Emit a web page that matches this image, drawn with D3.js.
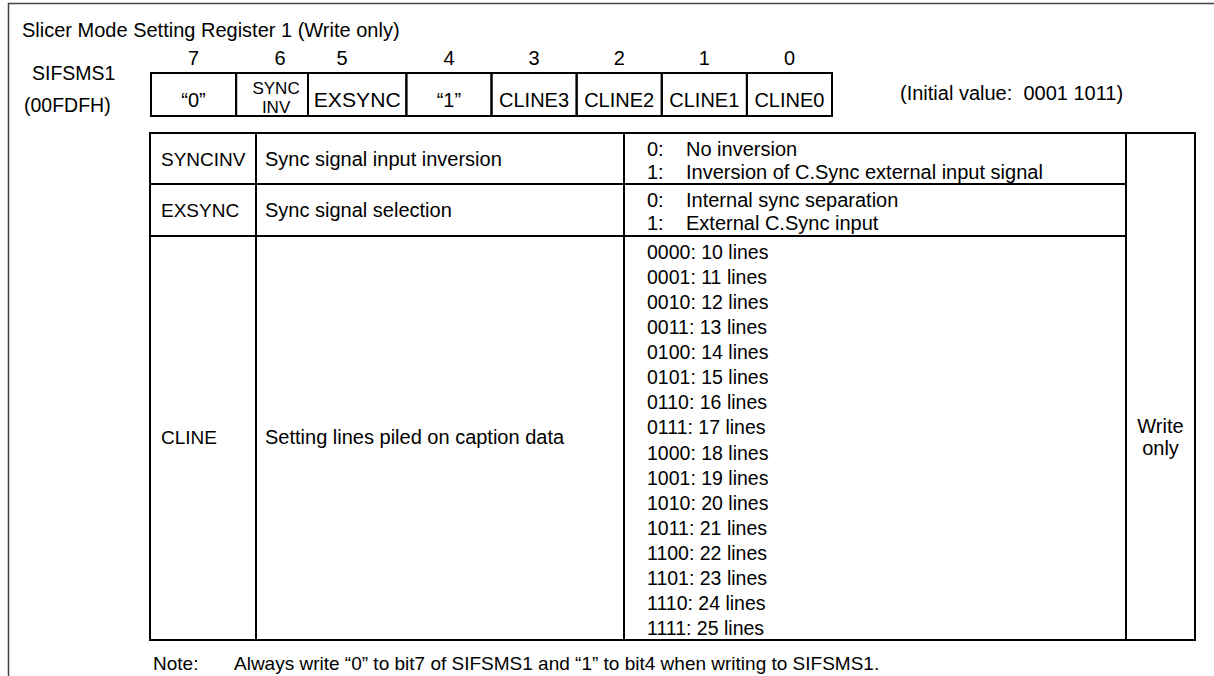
<!DOCTYPE html>
<html>
<head>
<meta charset="utf-8">
<script src="https://cdn.jsdelivr.net/npm/d3@7"></script>
<style>
  body { margin: 0; background: #fff; }
  text { font-family: "Liberation Sans", Arial, sans-serif; fill: #000; }
</style>
</head>
<body>
<div id="chart"></div>
<script>
// Register data
var title = "Slicer Mode Setting Register 1 (Write only)";
var regName = "SIFSMS1";
var regAddr = "(00FDFH)";
var bitNumbers = [7, 6, 5, 4, 3, 2, 1, 0];
var bitNames = ["\u201c0\u201d", ["SYNC", "INV"], "EXSYNC", "\u201c1\u201d", "CLINE3", "CLINE2", "CLINE1", "CLINE0"];
var initialValue = "(Initial value:  0001 1011)";

// Field table data
var fieldNames = ["SYNCINV", "EXSYNC", "CLINE"];
var fieldDescs = ["Sync signal input inversion", "Sync signal selection", "Setting lines piled on caption data"];
var syncinvCodes = ["0:", "1:"];
var syncinvTexts = ["No inversion", "Inversion of C.Sync external input signal"];
var exsyncCodes = ["0:", "1:"];
var exsyncTexts = ["Internal sync separation", "External C.Sync input"];
var clineCodes = ["0000", "0001", "0010", "0011", "0100", "0101", "0110", "0111",
                  "1000", "1001", "1010", "1011", "1100", "1101", "1110", "1111"];
var clineLines = [10, 11, 12, 13, 14, 15, 16, 17, 18, 19, 20, 21, 22, 23, 24, 25];
var accessLabel = ["Write", "only"];
var noteLabel = "Note:";
var noteText = "Always write \u201c0\u201d to bit7 of SIFSMS1 and \u201c1\u201d to bit4 when writing to SIFSMS1.";

var width = 1214, height = 676;
var fs = 20;

var svg = d3.select("#chart").append("svg")
    .attr("width", width)
    .attr("height", height);

// outer frame (cut off at right and bottom)
svg.append("path")
    .attr("d", "M8.5," + height + "V3.5H" + width)
    .attr("fill", "none")
    .attr("stroke", "#444")
    .attr("stroke-width", 1.5);

svg.append("text").attr("x", 22).attr("y", 37).attr("font-size", fs).text(title);
svg.append("text").attr("x", 32).attr("y", 80).attr("font-size", 19.5).text(regName);
svg.append("text").attr("x", 24).attr("y", 112).attr("font-size", 19.5).text(regAddr);

// ---- register bit box ----
var xBit = d3.scaleBand().domain(bitNumbers).range([151, 832]);
var split65 = 308;   // bits 6 and 5 are not split evenly
function cellLeft(b) { return b === 5 ? split65 : xBit(b); }
function cellRight(b) { return b === 6 ? split65 : xBit(b) + xBit.bandwidth(); }
var numX = { 6: 280, 5: 342 };

var boxTop = 73, boxBot = 116;

var cells = svg.append("g").selectAll("g")
    .data(bitNumbers.map(function(b, i) { return { bit: b, name: bitNames[i] }; }))
    .enter().append("g");

cells.append("rect")
    .attr("x", function(d) { return cellLeft(d.bit); })
    .attr("y", boxTop)
    .attr("width", function(d) { return cellRight(d.bit) - cellLeft(d.bit); })
    .attr("height", boxBot - boxTop)
    .attr("fill", "none")
    .attr("stroke", "#000")
    .attr("stroke-width", 2);

cells.append("text")
    .attr("x", function(d) { return numX[d.bit] || xBit(d.bit) + xBit.bandwidth() / 2; })
    .attr("y", 65)
    .attr("text-anchor", "middle")
    .attr("font-size", fs)
    .text(function(d) { return d.bit; });

cells.each(function(d) {
    var g = d3.select(this);
    var cx = (cellLeft(d.bit) + cellRight(d.bit)) / 2;
    if (Array.isArray(d.name)) {
        g.selectAll("text.nm").data(d.name).enter().append("text")
            .attr("class", "nm")
            .attr("x", cx + 4)
            .attr("y", function(t, i) { return 94 + i * 19; })
            .attr("text-anchor", "middle")
            .attr("font-size", 17)
            .text(function(t) { return t; });
    } else {
        var t = g.append("text")
            .attr("x", cx)
            .attr("y", 107)
            .attr("text-anchor", "middle")
            .attr("font-size", fs)
            .text(d.name);
        // EXSYNC sits almost edge to edge in its cell
        if (d.bit === 5) t.attr("textLength", 87)
                          .attr("lengthAdjust", "spacingAndGlyphs");
    }
});

svg.append("text").attr("x", 900).attr("y", 100).attr("font-size", fs)
    .style("white-space", "pre").text(initialValue);

// ---- field table ----
var colX = [150, 256, 624, 1126, 1195];
var rowY = [133, 184, 236, 640];
var tbl = svg.append("g");

tbl.append("rect")
    .attr("x", colX[0]).attr("y", rowY[0])
    .attr("width", colX[4] - colX[0]).attr("height", rowY[3] - rowY[0])
    .attr("fill", "none").attr("stroke", "#000").attr("stroke-width", 2);

tbl.selectAll("line.col").data(colX.slice(1, 4)).enter().append("line")
    .attr("x1", function(d) { return d; }).attr("x2", function(d) { return d; })
    .attr("y1", rowY[0]).attr("y2", rowY[3])
    .attr("stroke", "#000").attr("stroke-width", 2);

tbl.selectAll("line.row").data(rowY.slice(1, 3)).enter().append("line")
    .attr("x1", colX[0]).attr("x2", colX[3])
    .attr("y1", function(d) { return d; }).attr("y2", function(d) { return d; })
    .attr("stroke", "#000").attr("stroke-width", 2);

var rowMid = [(rowY[0] + rowY[1]) / 2, (rowY[1] + rowY[2]) / 2, 437];
fieldNames.forEach(function(n, i) {
    tbl.append("text").attr("x", 161).attr("y", rowMid[i] + 7).attr("font-size", 19).text(n);
    tbl.append("text").attr("x", 265).attr("y", rowMid[i] + 7).attr("font-size", fs).text(fieldDescs[i]);
});

function settingLines(codes, texts, top) {
    codes.forEach(function(c, i) {
        var y = top + 16 + i * 23 + 7;
        tbl.append("text").attr("x", 647).attr("y", y).attr("font-size", fs).text(c);
        tbl.append("text").attr("x", 686).attr("y", y).attr("font-size", fs).text(texts[i]);
    });
}
settingLines(syncinvCodes, syncinvTexts, rowY[0]);
settingLines(exsyncCodes, exsyncTexts, rowY[1]);

var yCline = d3.scaleLinear().domain([0, clineCodes.length - 1]).range([259, 635]);
tbl.selectAll("text.cl").data(clineCodes).enter().append("text")
    .attr("class", "cl")
    .attr("x", 647)
    .attr("y", function(d, i) { return yCline(i); })
    .attr("font-size", 19.5)
    .text(function(d, i) { return d + ": " + clineLines[i] + " lines"; });

tbl.selectAll("text.acc").data(accessLabel).enter().append("text")
    .attr("class", "acc")
    .attr("x", (colX[3] + colX[4]) / 2)
    .attr("y", function(d, i) { return 433 + i * 22; })
    .attr("text-anchor", "middle")
    .attr("font-size", fs)
    .text(function(d) { return d; });

svg.append("text").attr("x", 153).attr("y", 670).attr("font-size", 19).text(noteLabel);
svg.append("text").attr("x", 234).attr("y", 670).attr("font-size", 19).text(noteText);
</script>
</body>
</html>
